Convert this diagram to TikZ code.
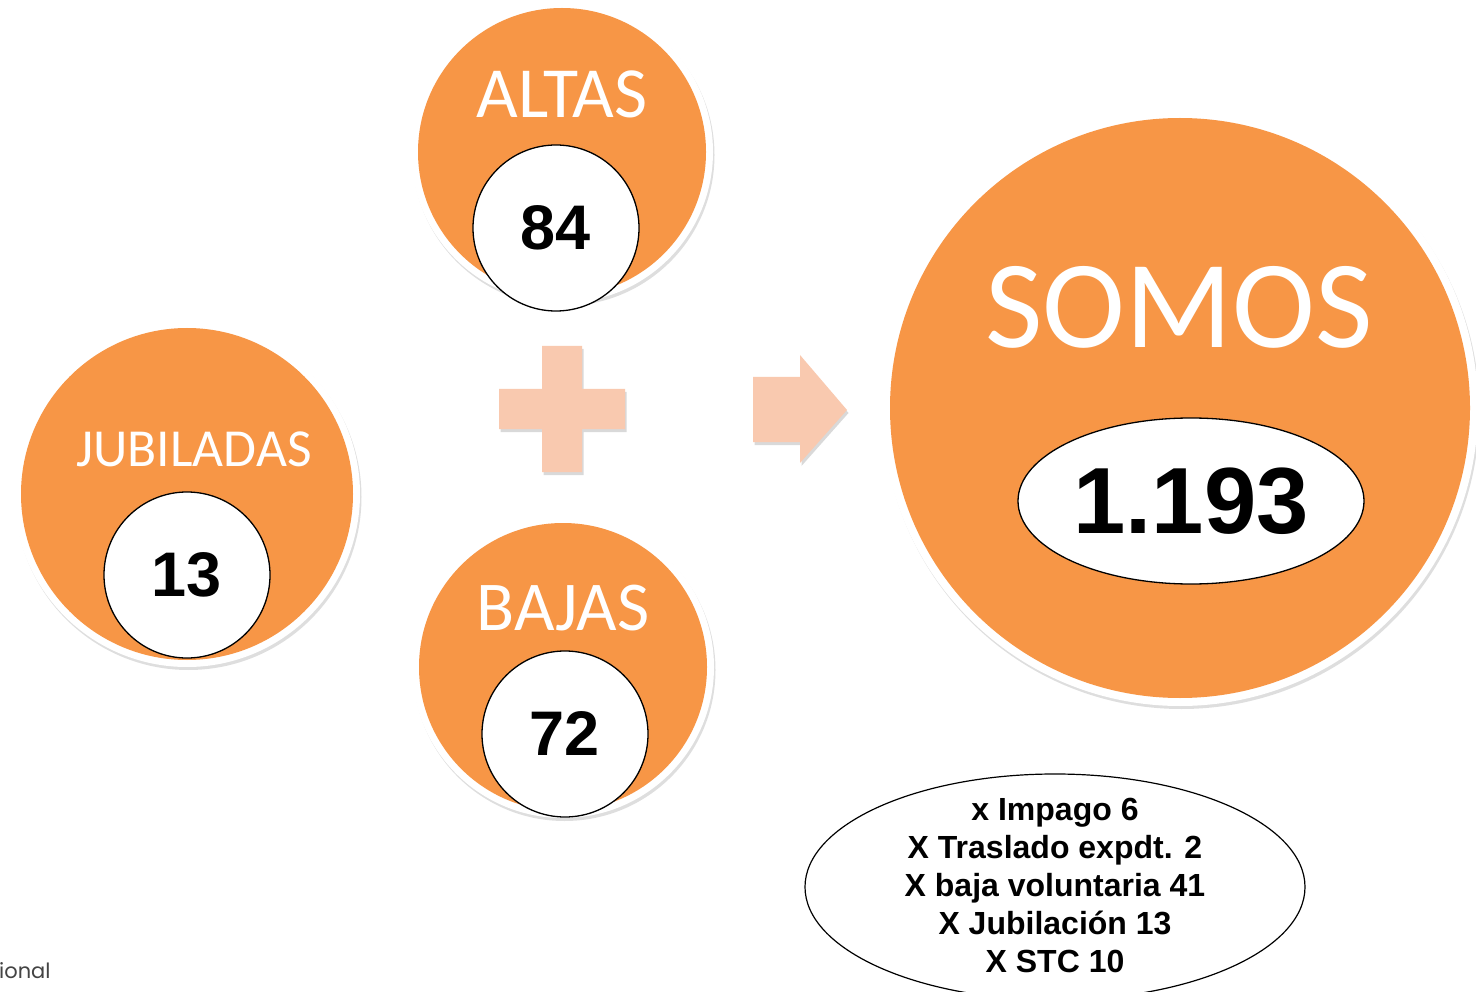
\documentclass[tikz,border=0pt]{standalone}
\usepackage{fontspec}
\setmainfont{Carlito}
\newfontfamily\numfont{Liberation Sans}
\newfontfamily\gothicfont{Poppins}
\usetikzlibrary{shadows,shapes.geometric}
\definecolor{orng}{HTML}{F79646}
\definecolor{peach}{HTML}{F9C9AF}
\definecolor{footgrey}{HTML}{444444}
\begin{document}
\begin{tikzpicture}[x=1pt,y=-1pt,
  rim/.style={circle, fill=white, inner sep=0pt,
    drop shadow={shadow xshift=1.5pt, shadow yshift=-3pt, fill=black, opacity=0.13}},
  disc/.style={circle, fill=orng, inner sep=0pt},
  numcircle/.style={circle, draw=black, line width=1.3pt, fill=white, inner sep=0pt,
    minimum size=166pt, font=\numfont\bfseries\fontsize{63}{63}\selectfont},
  title/.style={anchor=base, text=white, inner sep=0pt},
  sign/.style={fill=peach,
    drop shadow={shadow xshift=1.5pt, shadow yshift=-3pt, fill=black, opacity=0.15}},
  listtext/.style={align=center, inner sep=0pt,
    font=\numfont\bfseries\fontsize{32}{38}\selectfont}
]
\useasboundingbox (0,0) rectangle (1476,992);
\fill[white] (0,0) rectangle (1476,992);

% ALTAS
\node[rim, minimum size=302pt] (altas-rim) at (562,152) {};
\node[disc, minimum size=288pt] (altas) at (562,152) {};
\node[title, font=\fontsize{72}{72}\selectfont] (altas-t) at (562,118) {ALTAS};
\node[numcircle] (altas-n) at (556,228) {84};

% JUBILADAS
\node[rim, minimum size=346pt] (jub-rim) at (187,494) {};
\node[disc, minimum size=332pt] (jub) at (187,494) {};
\node[title, font=\fontsize{53.5}{53.5}\selectfont] (jub-t) at (194,466) {JUBILADAS};
\node[numcircle] (jub-n) at (187,575) {13};

% BAJAS
\node[rim, minimum size=302pt] (bajas-rim) at (563,667) {};
\node[disc, minimum size=288pt] (bajas) at (563,667) {};
\node[title, font=\fontsize{70}{70}\selectfont] (bajas-t) at (563,630) {BAJAS};
\node[numcircle] (bajas-n) at (565,734) {72};

% SOMOS
\node[rim, minimum size=596pt] (somos-rim) at (1180,408) {};
\node[disc, minimum size=580pt] (somos) at (1180,408) {};
\node[title, font=\fontsize{125}{125}\selectfont] (somos-t) at (1179,348) {SOMOS};
\node[ellipse, draw=black, line width=1.3pt, fill=white, inner sep=0pt,
  minimum width=346pt, minimum height=166pt,
  font=\numfont\bfseries\fontsize{94}{94}\selectfont] (somos-n) at (1191,501) {1.193};

% plus sign
\path[sign] (542,346) -- (582,346) -- (582,389) -- (625,389) -- (625,429)
  -- (582,429) -- (582,472) -- (542,472) -- (542,429) -- (499,429)
  -- (499,389) -- (542,389) -- cycle;

% arrow
\path[sign] (753,377) -- (800,377) -- (800,355) -- (847,410) -- (800,463)
  -- (800,442) -- (753,442) -- cycle;

% breakdown ellipse
\node[ellipse, draw=black, line width=1.2pt, fill=white, inner sep=0pt,
  minimum width=500pt, minimum height=226pt] (desglose) at (1055,887) {};
\node[listtext] (desglose-t) at (1055,885) {x Impago 6\\X Traslado expdt. 2\\X baja voluntaria 41\\X Jubilación 13\\X STC 10};

% footer fragment
\node[anchor=base west, inner sep=0pt, text=footgrey,
  font=\gothicfont\fontsize{21}{21}\selectfont] (footer) at (-1,978) {ional};
\end{tikzpicture}
\end{document}
